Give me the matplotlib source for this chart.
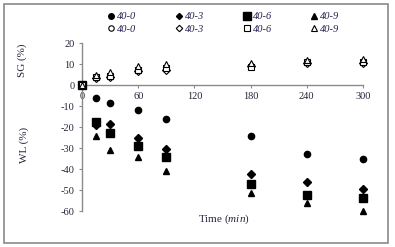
import matplotlib
matplotlib.use("Agg")
import matplotlib.pyplot as plt
from matplotlib.patches import Rectangle
from matplotlib.lines import Line2D

plt.rcParams['font.family'] = ['Liberation Serif', 'DejaVu Serif']
plt.rcParams['mathtext.fontset'] = 'custom'
plt.rcParams['mathtext.rm'] = 'Liberation Serif'
plt.rcParams['mathtext.it'] = 'Liberation Serif:italic'

# data
times = [0, 15, 30, 60, 90, 180, 240, 300]
series = ["40-0", "40-3", "40-6", "40-9"]
wl_40_0 = [0, -6.2, -8.6, -12, -16.3, -24.4, -33, -35]
wl_40_3 = [0, -19, -18.7, -25, -30.6, -42.5, -46, -49.5]
wl_40_6 = [0, -17.5, -23, -29.2, -34.4, -47, -52.6, -54]
wl_40_9 = [0, -24.5, -31, -34.5, -41, -51.5, -56, -60]
sg_40_0 = [0, 4, 4.5, 7, 8, 9, 11, 11]
sg_40_3 = [0, 3.5, 4, 6.5, 7, 9, 10.5, 10.5]
sg_40_6 = [0, 4, 4.5, 7, 8, 8.5, 11, 11]
sg_40_9 = [0, 5, 6, 9, 10, 10.5, 12, 12.5]
xticks = [0, 60, 120, 180, 240, 300]
yticks = [-60, -50, -40, -30, -20, -10, 0, 10, 20]

W, H = 395, 247
fig = plt.figure(figsize=(W / 100, H / 100), dpi=100)
fig.patches.append(Rectangle((4 / W, 1 - 243 / H), 384 / W, 239 / H,
                             transform=fig.transFigure, fill=False,
                             edgecolor='#8a8a8a', linewidth=1.2))

ax = fig.add_axes([82 / W, 1 - 211 / H, (363 - 82) / W, 168 / H])
ax.set_xlim(0, 300)
ax.set_ylim(-60, 20)

tc = '#24243a'
markers = ['o', 'D', 's', '^']
sizes = [4.5, 3.6, 6, 4.5]
open_sizes = [4.2, 3.6, 5.0, 4.6]
wl = [wl_40_0, wl_40_3, wl_40_6, wl_40_9]
sg = [sg_40_0, sg_40_3, sg_40_6, sg_40_9]
handles = []
for name, m, s, so, w, g in zip(series, markers, sizes, open_sizes, wl, sg):
    ax.plot(times, w, linestyle='none', marker=m, markersize=s, color='black',
            clip_on=False, zorder=3)
    ax.plot(times, g, linestyle='none', marker=m, markersize=so,
            markerfacecolor='white', markeredgecolor='black',
            markeredgewidth=0.8, clip_on=False, zorder=4)
    handles.append(Line2D([], [], linestyle='none', marker=m, markersize=s - 0.5,
                          color='black'))
    handles.append(Line2D([], [], linestyle='none', marker=m, markersize=so - 0.3,
                          markerfacecolor='white', markeredgecolor='black',
                          markeredgewidth=0.8))

labels = []
for name in series:
    labels += [name, name]

for sp in ['top', 'right']:
    ax.spines[sp].set_visible(False)
ax.spines['left'].set_color('#8a8a8a')
ax.spines['bottom'].set_color('#8a8a8a')
ax.spines['bottom'].set_position(('data', 0))
ax.spines['left'].set_linewidth(1.0)
ax.spines['bottom'].set_linewidth(1.0)

ax.set_xticks(xticks)
ax.set_xticklabels([str(t) for t in xticks])
ax.set_yticks(yticks)
ax.set_yticklabels([str(t) for t in yticks])
ax.tick_params(axis='y', direction='out', length=2.5, color='#8a8a8a',
               labelsize=7.5, labelcolor=tc, pad=3)
ax.tick_params(axis='x', direction='out', length=2.0, color='#8a8a8a',
               labelsize=7.5, labelcolor=tc, pad=3)

fig.text(22 / W, 1 - 60 / H, 'SG (%)', rotation=90, ha='center', va='center',
         fontsize=8, color=tc)
fig.text(24 / W, 1 - 145 / H, 'WL (%)', rotation=90, ha='center', va='center',
         fontsize=8, color=tc)
fig.text(224 / W, 1 - 219 / H, 'Time ($\\mathit{min}$)', ha='center', va='center',
         fontsize=8, color=tc)

leg = fig.legend(handles, labels, ncol=4, loc='upper left',
                 bbox_to_anchor=(108 / W, 1 - 12 / H), frameon=False,
                 prop={'style': 'italic', 'size': 7.5},
                 handlelength=0.6, handletextpad=0.3, columnspacing=3.75,
                 labelspacing=0.3, borderpad=0, borderaxespad=0)
for t in leg.get_texts():
    t.set_color('#2a2050')

fig.savefig('out.png', dpi=100)
